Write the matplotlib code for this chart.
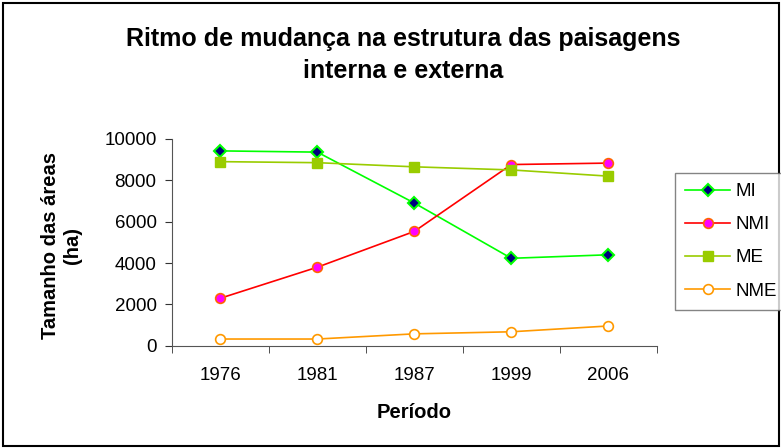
import matplotlib
matplotlib.use('Agg')
from matplotlib import pyplot as plt
from matplotlib.patches import Rectangle

plt.rcParams['font.family'] = ['Liberation Sans', 'DejaVu Sans']

anos = ['1976', '1981', '1987', '1999', '2006']
mi = [9420, 9360, 6900, 4230, 4400]
nmi = [2300, 3800, 5530, 8760, 8830]
me = [8900, 8850, 8650, 8500, 8200]
nme = [330, 330, 580, 680, 960]

fig = plt.figure(figsize=(7.81, 4.48), dpi=100)
ax = fig.add_axes([0.220, 0.228, 0.621, 0.462])

x = range(len(anos))
ax.plot(x, mi, color='#00FF00', lw=1.2, marker='D', ms=6,
        mfc='#000080', mec='#00FF00', mew=1.5, label='MI')
ax.plot(x, nmi, color='#FF0000', lw=1.2, marker='o', ms=7,
        mfc='#FF00FF', mec='#FF6600', mew=1.2, label='NMI')
ax.plot(x, me, color='#99CC00', lw=1.2, marker='s', ms=7,
        mfc='#99CC00', mec='#99CC00', label='ME')
ax.plot(x, nme, color='#FF9900', lw=1.2, marker='o', ms=7,
        mfc='white', mec='#FF9900', mew=1.2, label='NME')

ax.set_xlim(-0.5, len(anos) - 0.5)
ax.set_ylim(0, 10000)
ax.set_yticks(range(0, 10001, 2000))
ax.set_xticks(x)
ax.set_xticklabels(anos, fontsize=13.5)
ax.set_xticks([i + 0.5 for i in range(-1, len(anos))], minor=True)
ax.tick_params(axis='x', which='major', length=0, pad=15)
ax.tick_params(axis='x', which='minor', length=5, color='#333333')
ax.tick_params(axis='y', labelsize=13.5, length=5, pad=6, color='#333333')
for s in ['top', 'right']:
    ax.spines[s].set_visible(False)
ax.spines['left'].set_color('#555555')
ax.spines['bottom'].set_color('#555555')

fig.text(0.530, 0.080, 'Período', fontsize=14.5, fontweight='bold',
         ha='center', va='center')
fig.text(0.079, 0.453, 'Tamanho das áreas\n(ha)', rotation=90, fontsize=14.5,
         fontweight='bold', ha='center', va='center', multialignment='center')

fig.text(0.516, 0.877, 'Ritmo de mudança na estrutura das paisagens\ninterna e externa',
         fontsize=18, fontweight='bold', ha='center', va='center', linespacing=1.45)

leg = fig.legend(loc='upper left', bbox_to_anchor=(0.864, 0.614), fontsize=13.5,
                 frameon=True, fancybox=False, borderaxespad=0, borderpad=0.55,
                 labelspacing=0.85, handlelength=2.4, handletextpad=0.3)
leg.get_frame().set_edgecolor('#666666')
leg.get_frame().set_linewidth(1.0)

fig.patches.append(Rectangle((0.004, 0.004), 0.993, 0.99, transform=fig.transFigure,
                             fill=False, edgecolor='black', lw=1.5))

fig.savefig('out.png', dpi=100)
